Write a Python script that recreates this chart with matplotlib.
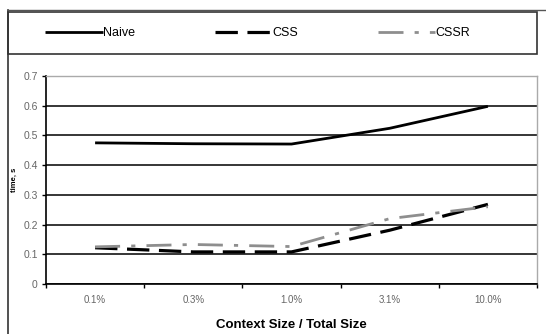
import numpy as np
import matplotlib
matplotlib.use('Agg')
from matplotlib import pyplot as plt
from matplotlib.lines import Line2D
from matplotlib.patches import Rectangle

plt.rcParams['font.family'] = ['Liberation Sans', 'DejaVu Sans']

# data
categories = ['0.1%', '0.3%', '1.0%', '3.1%', '10.0%']
naive = [0.475, 0.472, 0.471, 0.524, 0.598]
css = [0.122, 0.108, 0.108, 0.181, 0.268]
cssr = [0.125, 0.133, 0.126, 0.220, 0.260]

W, H = 546, 334
fig = plt.figure(figsize=(W / 100, H / 100), dpi=100)

# plot area in pixels: left 46, right 537, top 76, bottom 284
ax = fig.add_axes([46 / W, 1 - 284 / H, (537 - 46) / W, (284 - 76) / H])

x = np.arange(len(categories))
ax.plot(x, naive, color='black', lw=2.0, solid_capstyle='butt', label='Naive', zorder=3)
ax.plot(x, css, color='black', lw=2.3, dashes=(7, 3), label='CSS', zorder=3)
ax.plot(x, cssr, color='#8e8e8e', lw=2.0, dashes=(9, 4, 1.5, 4), label='CSSR', zorder=3)

ax.set_xlim(-0.5, len(categories) - 0.5)
ax.set_ylim(0, 0.7)
ax.set_yticks(np.arange(0, 0.71, 0.1))
ax.set_yticklabels(['0', '0.1', '0.2', '0.3', '0.4', '0.5', '0.6', '0.7'])
ax.yaxis.grid(True, color='black', lw=1.1)
ax.set_axisbelow(True)

# category labels centered, tick marks between categories
ax.set_xticks(np.arange(-0.5, len(categories), 1.0))
ax.set_xticklabels([])
ax.set_xticks(x, minor=True)
ax.set_xticklabels(categories, minor=True)
ax.tick_params(axis='x', which='minor', length=0, pad=8, labelsize=7, labelcolor='#666666')
ax.tick_params(axis='x', which='major', length=3, width=1, direction='out')
ax.tick_params(axis='y', length=3, width=1, direction='out', labelsize=7.5,
               labelcolor='#666666', pad=3)

for s in ['top', 'right']:
    ax.spines[s].set_color('#aaaaaa')
    ax.spines[s].set_linewidth(1.0)
for s in ['left', 'bottom']:
    ax.spines[s].set_color('black')
    ax.spines[s].set_linewidth(1.2)

ax.set_xlabel('Context Size / Total Size', fontsize=9.5, fontweight='bold', labelpad=10)
ax.set_ylabel('time, s', fontsize=5.5, fontweight='bold', labelpad=4)

# outer frame lines
fig.add_artist(Line2D([8 / W, 8 / W], [0, 1 - 9.5 / H], transform=fig.transFigure,
                      color='#333333', lw=1.2))
fig.add_artist(Line2D([8 / W, 1], [1 - 9.5 / H, 1 - 9.5 / H], transform=fig.transFigure,
                      color='#555555', lw=1.0))

# legend box
fig.add_artist(Rectangle((8 / W, 1 - 54 / H), (537 - 8) / W, (54 - 12) / H,
                         transform=fig.transFigure, fill=False, edgecolor='#333333', lw=1.2))
handles, labels = ax.get_legend_handles_labels()
fig.legend(handles, labels, loc='center left', bbox_to_anchor=(45 / W, 1 - 33 / H),
           ncol=3, frameon=False, fontsize=9, handlelength=4.6, handletextpad=0.0,
           columnspacing=6.4, borderpad=0, borderaxespad=0)

fig.savefig('out.png', dpi=100)
